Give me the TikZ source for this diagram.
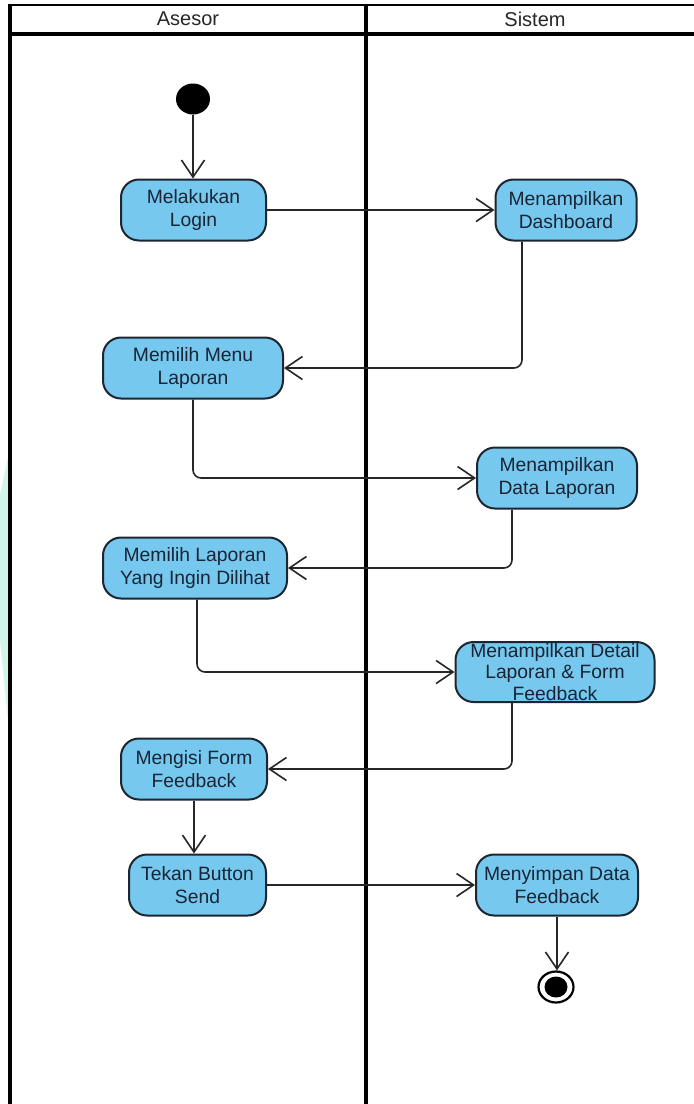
\documentclass[tikz,border=0pt]{standalone}
\usepackage{fontspec}
\setmainfont{Liberation Sans}
\usetikzlibrary{arrows.meta,shapes.geometric}
\definecolor{actfill}{RGB}{118,200,238}
\definecolor{actline}{RGB}{28,38,48}
\definecolor{acttext}{RGB}{26,36,52}
\definecolor{mint}{RGB}{208,245,233}
\begin{document}
\begin{tikzpicture}[x=1pt,y=-1pt,
  lane/.style={line width=3.4pt,black},
  action/.style={rectangle,rounded corners=18pt,draw=actline,line width=2pt,
    fill=actfill,text=acttext,align=center,inner sep=0pt,minimum height=61pt,
    font=\fontsize{19.3}{22.5}\selectfont},
  flow/.style={line width=1.6pt,draw=black!85,rounded corners=8pt,
    -{Straight Barb[length=17pt,width=23pt,line width=1.6pt]}},
  lanetitle/.style={text=black!85,font=\fontsize{20}{22}\selectfont}]
\useasboundingbox (0,0) rectangle (694,1104);
\fill[white] (0,0) rectangle (694,1104);
% faint mark on the left margin
\fill[mint] (9,453) -- (0,495) -- (0,640) -- (9,730) -- cycle;

% swimlanes
\draw[lane,line width=2.8pt] (10,5) -- (694,5);
\draw[lane] (10,34) -- (694,34);
\draw[lane] (10,4) -- (10,1104);
\draw[lane] (366,4) -- (366,1104);
\node[lanetitle] (hasesor) at (188,19) {Asesor};
\node[lanetitle] (hsistem) at (535,19) {Sistem};

% start and end
\node[ellipse,fill=black,minimum width=34pt,minimum height=31pt,inner sep=0pt] (start) at (193,99) {};
\node[ellipse,draw=black,line width=2.2pt,fill=white,minimum width=35pt,minimum height=31pt,inner sep=0pt] (end) at (556,987) {};
\fill[black] (end.center) ellipse [x radius=11.5pt,y radius=10.5pt];

% actions
\node[action,minimum width=145pt] (n1) at (193.5,210) {Melakukan\\Login};
\node[action,minimum width=141pt] (n2) at (566,210) {Menampilkan\\Dashboard};
\node[action,minimum width=180pt] (n3) at (193,368) {Memilih Menu\\Laporan};
\node[action,minimum width=160pt] (n4) at (557,478) {Menampilkan\\Data Laporan};
\node[action,minimum width=184pt] (n5) at (195,568) {Memilih Laporan\\Yang Ingin Dilihat};
\node[action,minimum width=199pt,minimum height=60pt,font=\fontsize{19.3}{21.5}\selectfont] (n6) at (555,672) {Menampilkan Detail\\Laporan \& Form\\Feedback};
\node[action,minimum width=146pt] (n7) at (194,769) {Mengisi Form\\Feedback};
\node[action,minimum width=137pt] (n8) at (197.5,885) {Tekan Button\\Send};
\node[action,minimum width=162pt] (n9) at (557,885) {Menyimpan Data\\Feedback};

% control flow
\draw[flow] (start.south) -- (start.south |- n1.north);
\draw[flow] (n1) -- (n2);
\draw[flow] ([xshift=-44pt]n2.south) |- (n3.east);
\draw[flow] (n3.south) |- (n4.west);
\draw[flow] ([xshift=-45pt]n4.south) |- (n5.east);
\draw[flow] ([xshift=2pt]n5.south) |- (n6.west);
\draw[flow] ([xshift=-43pt]n6.south) |- (n7.east);
\draw[flow] (n7.south) -- (n7.south |- n8.north);
\draw[flow] (n8) -- (n9);
\draw[flow] (n9.south) -- (n9.south |- end.north);
\end{tikzpicture}
\end{document}
